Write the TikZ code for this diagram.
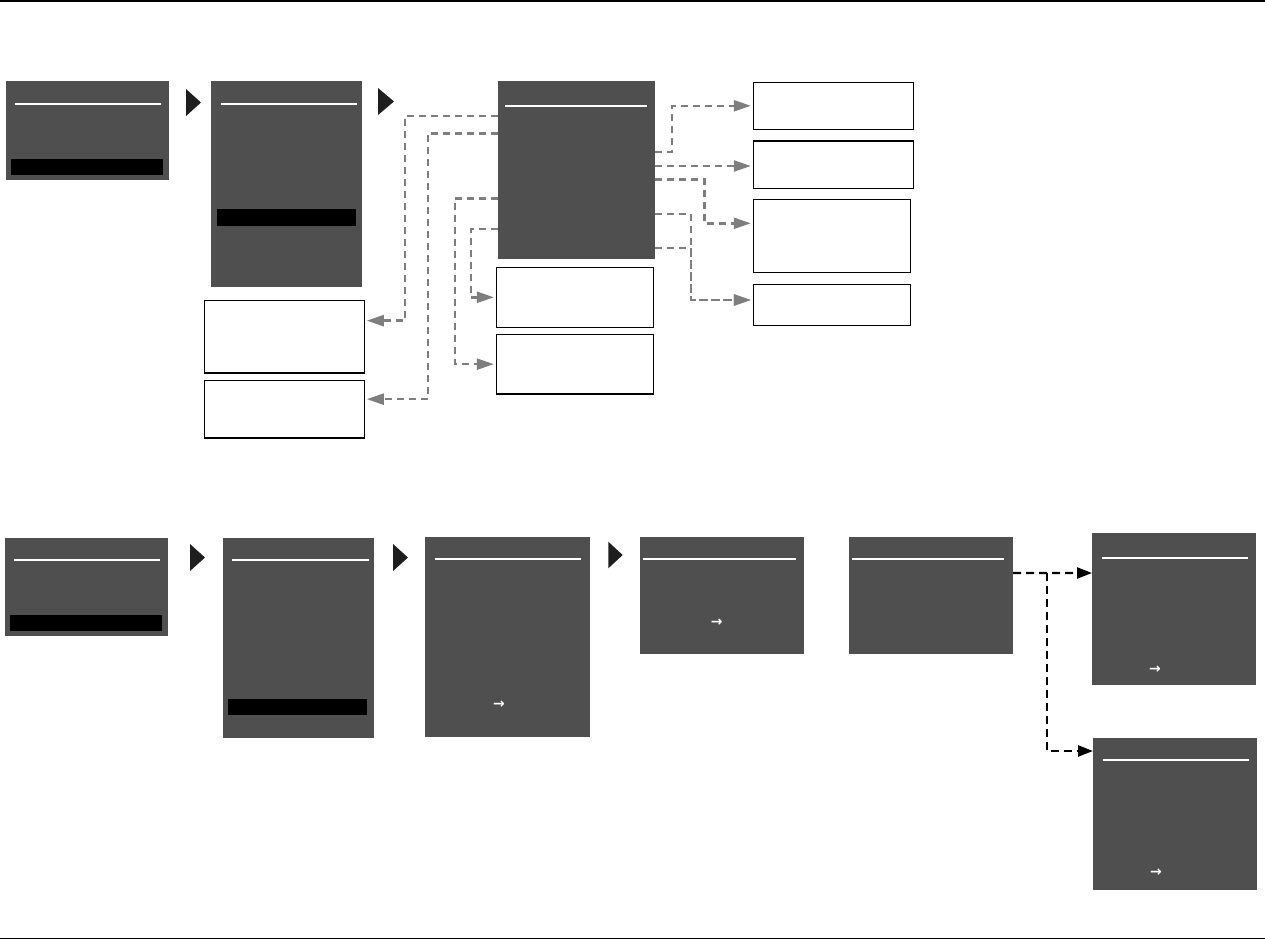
\documentclass[tikz,border=0pt]{standalone}
\usepackage{fontspec}
\newfontfamily\symfont{DejaVu Sans}
\usetikzlibrary{arrows.meta}
\definecolor{scr}{HTML}{4F4F4F}
\definecolor{gline}{HTML}{7E7E7E}
\definecolor{tricol}{HTML}{1E1E1E}
\tikzset{
  screen/.style={fill=scr, draw=none, inner sep=0pt, outer sep=0pt, anchor=north west},
  wbox/.style={draw=black, line width=1.3pt, fill=white, inner sep=0pt, outer sep=0pt, anchor=north west},
  sz/.style 2 args={minimum width=#1pt, minimum height=#2pt},
  hline/.style={draw=white, line width=1.8pt},
  selbar/.style={fill=black},
  playtri/.style={fill=tricol},
  gconn/.style={draw=gline, line width=2.4pt, dash pattern=on 7pt off 5pt,
    -{Triangle[length=17pt,width=11pt]}, shorten >=2.5pt},
  bconn/.style={draw=black, line width=2.4pt, dash pattern=on 8pt off 5pt,
    -{Triangle[length=15pt,width=11pt]}},
  glyph/.style={text=white, inner sep=0pt, font=\symfont\bfseries\fontsize{14}{14}\selectfont}
}
\begin{document}
\begin{tikzpicture}[x=1pt,y=-1pt]
\useasboundingbox (0,0) rectangle (1265,940);
% frame lines
\draw[line width=1.4pt] (0,1) -- (1265,1);
\draw[line width=1.6pt] (0,938.5) -- (1265,938.5);

% ---------- top row ----------
\node[screen, sz={163}{99}] (a1) at (6,81) {};
\node[screen, sz={151}{206}] (a2) at (211,81) {};
\node[screen, sz={157}{178}] (a3) at (498,81) {};
\draw[hline] (15,103.7) -- (161,103.7);
\draw[hline] (221,103.7) -- (357,103.7);
\draw[hline] (505,105.7) -- (647,105.7);
\fill[selbar] (11,159) rectangle (163,175);
\fill[selbar] (217,209) rectangle (356,226);
\fill[playtri] (186,89) -- (201,102.5) -- (186,116) -- cycle;
\fill[playtri] (378,88) -- (394,101.5) -- (378,115) -- cycle;

\node[wbox, sz={160}{72.7}] (b1) at (204.3,300.3) {};
\node[wbox, sz={160}{57.7}] (b2) at (204.3,380.3) {};
\node[wbox, sz={157.4}{60}] (c1) at (496.3,267.3) {};
\node[wbox, sz={157.4}{59.7}] (c2) at (496.3,334.3) {};
\node[wbox, sz={160.4}{47}] (d1) at (753.3,82.3) {};
\node[wbox, sz={160.4}{47.3}] (d2) at (753.3,141) {};
\node[wbox, sz={157}{73}] (d3) at (753.3,199.3) {};
\node[wbox, sz={157}{41}] (d4) at (753.3,284.3) {};

% left connectors from a3
\draw[gconn] ([yshift=-34.7pt]a3.north west) -- ++(-93,0) |- ([yshift=16pt]b1.east);
\draw[gconn] ([yshift=-52.3pt]a3.north west) -- ++(-70,0) |- ([yshift=10pt]b2.east);
\draw[gconn] ([yshift=-117.3pt]a3.north west) -- ++(-43,0) |- (c2.west);
\draw[gconn] ([yshift=-148pt]a3.north west) -- ++(-27.3,0) |- (c1.west);
% right connectors from a3
\draw[gconn] ([yshift=-70.7pt]a3.north east) -- ++(17,0) |- (d1.west);
\draw[gconn] ([yshift=-85pt]a3.north east) -- ([yshift=-1.35pt]d2.west);
\draw[gconn] ([yshift=-98.3pt]a3.north east) -- ++(49.3,0) |- ([yshift=12.5pt]d3.west);
\draw[gconn] ([yshift=-133pt]a3.north east) -- ++(35.7,0) |- ([yshift=4.8pt]d4.west);
\draw[gconn] ([yshift=-166.7pt]a3.north east) -- ++(35.7,0) |- ([yshift=4.8pt]d4.west);

% ---------- bottom row ----------
\node[screen, sz={162.7}{97.7}] (e1) at (5,538) {};
\node[screen, sz={151.3}{199.7}] (e2) at (222.7,538) {};
\node[screen, sz={165}{200}] (e3) at (425,537) {};
\node[screen, sz={164}{116.7}] (e4) at (640,537) {};
\node[screen, sz={164}{116.7}] (e5) at (849,537) {};
\node[screen, sz={164}{151.7}] (e6) at (1092,533) {};
\node[screen, sz={164}{151.7}] (e7) at (1093,738) {};
\draw[hline] (14,559.7) -- (160,559.7);
\draw[hline] (232,559.7) -- (369,559.7);
\draw[hline] (435,558.7) -- (581,558.7);
\draw[hline] (643,558.7) -- (796,558.7);
\draw[hline] (852,558.7) -- (1004,558.7);
\draw[hline] (1102,558) -- (1248,558);
\draw[hline] (1103,759.7) -- (1249,759.7);
\fill[selbar] (10,615) rectangle (162,631);
\fill[selbar] (228,699) rectangle (367,715);
\fill[playtri] (190,544) -- (205,557.5) -- (190,571) -- cycle;
\fill[playtri] (393,544) -- (408,557.5) -- (393,571) -- cycle;
\fill[playtri] (608.3,541.7) -- (622.7,555) -- (608.3,568.3) -- cycle;

\node[glyph] (g3) at (499,705) {→};
\node[glyph] (g4) at (716.7,622.7) {→};
\node[glyph] (g6) at (1155,670) {→};
\node[glyph] (g7) at (1156,872.7) {→};

\draw[bconn] ([yshift=-36pt]e5.north east) -- ([yshift=35.85pt]e6.west);
\coordinate (j) at (1047,573);
\draw[bconn] (j) |- ([yshift=62.85pt]e7.west);
\end{tikzpicture}
\end{document}
